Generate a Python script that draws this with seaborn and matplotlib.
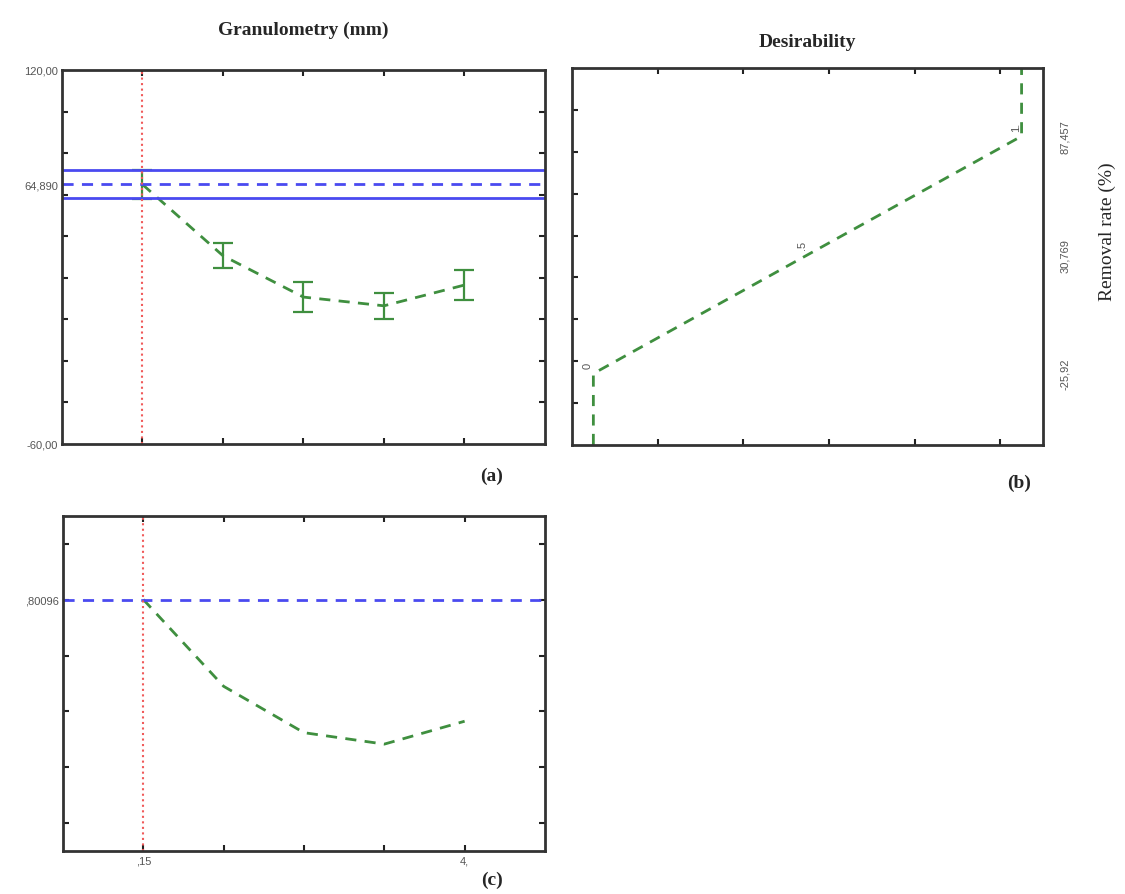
import numpy as np
import pandas as pd
import matplotlib
matplotlib.use("Agg")
import matplotlib.pyplot as plt
import seaborn as sns

# granulometry levels (5 levels, only first and last labelled)
levels = [1, 2, 3, 4, 5]
level_labels = [",15", "", "", "", "4,"]

# removal rate (%) predicted at each level, with error bar half widths
removal_mean = [64.89, 30.6, 10.7, 6.5, 16.5]
removal_err = [6.9, 6.0, 7.2, 6.2, 7.3]
current_value = 64.89
ci_low, ci_high = 58.2, 71.7

# desirability function (desirability -> removal rate)
desir_x = [0.0, 0.0, 0.5, 1.0, 1.0]
desir_y = [-60.0, -25.92, 30.769, 87.457, 120.0]
desir_marks = ["0", ".5", "1."]
desir_ticks = [-25.92, 30.769, 87.457]
desir_tick_labels = ["-25,92", "30,769", "87,457"]

# desirability at each granulometry level
desirability = [0.80096, 0.49, 0.324, 0.283, 0.365]
current_desir = 0.80096

GREEN = "#3f8f3f"
BLUE = "#4a4af0"
RED = "#f05a5a"
TICKC = "#555555"

sns.set_style("white")
plt.rcParams["font.family"] = ["Liberation Sans Narrow", "Liberation Sans", "DejaVu Sans"]

fig = plt.figure(figsize=(11.25, 8.95), dpi=100)
ax_a = fig.add_axes([0.0551, 0.5028, 0.4293, 0.4179])
ax_b = fig.add_axes([0.5084, 0.5017, 0.4187, 0.4212])
ax_c = fig.add_axes([0.0560, 0.0480, 0.4284, 0.3743])


def style_box(ax):
    for s in ax.spines.values():
        s.set_color("#333333")
        s.set_linewidth(2)
    ax.tick_params(which="both", direction="in", top=True, right=True,
                   left=True, bottom=True, color="#222222")
    ax.tick_params(which="minor", length=4, width=1.5)
    ax.tick_params(which="major", length=4, width=1.5, labelsize=8, labelcolor=TICKC, pad=3)


# ---- (a) profile of removal rate ----
df_a = pd.DataFrame({"level": levels, "removal": removal_mean})
sns.lineplot(data=df_a, x="level", y="removal", ax=ax_a, color=GREEN,
             linestyle=(0, (4, 3)), linewidth=2)
ax_a.errorbar(levels, removal_mean, yerr=removal_err, fmt="none",
              ecolor=GREEN, elinewidth=1.6, capsize=7, capthick=1.6)
ax_a.axhline(current_value, color=BLUE, linestyle=(0, (4, 3)), linewidth=2)
ax_a.axhline(ci_low, color=BLUE, linewidth=2)
ax_a.axhline(ci_high, color=BLUE, linewidth=2)
ax_a.axvline(levels[0], color=RED, linestyle=":", linewidth=1.5)
ax_a.set_xlim(0, 6)
ax_a.set_ylim(-60, 120)
ax_a.set_xticks(levels)
ax_a.set_xticklabels([])
ax_a.set_yticks([-60, current_value, 120])
ax_a.set_yticklabels(["-60,00", "64,890", "120,00"])
ax_a.set_yticks(np.arange(-40, 120, 20), minor=True)
style_box(ax_a)
ax_a.tick_params(axis="y", which="major", length=0)
ax_a.set_xlabel("")
ax_a.set_ylabel("")
ax_a.set_title("Granulometry (mm)", fontsize=14, fontweight="bold",
               family="Liberation Serif", pad=26)

# ---- (b) desirability function ----
df_b = pd.DataFrame({"d": desir_x, "removal": desir_y})
sns.lineplot(data=df_b, x="d", y="removal", ax=ax_b, sort=False, estimator=None,
             color=GREEN, linestyle=(0, (4, 3)), linewidth=2)
for lab, dx, ry in zip(desir_marks, desir_x[1:4], desir_y[1:4]):
    ax_b.annotate(lab, (dx, ry), xytext=(-4, 4), textcoords="offset points",
                  rotation=90, fontsize=8, color=TICKC, ha="center", va="bottom")
ax_b.set_xlim(-0.05, 1.05)
ax_b.set_ylim(-60, 120)
ax_b.set_xticks([0.15, 0.35, 0.55, 0.75, 0.95])
ax_b.set_xticklabels([])
ax_b.set_yticks(np.arange(-40, 120, 20))
ax_b.set_yticklabels([])
style_box(ax_b)
ax_b.set_xlabel("")
ax_b.set_ylabel("")
ax_b.set_title("Desirability", fontsize=14, fontweight="bold",
               family="Liberation Serif", pad=16)
ax_r = ax_b.twinx()
ax_r.set_ylim(-60, 120)
ax_r.set_yticks(desir_ticks)
ax_r.set_yticklabels(desir_tick_labels, rotation=90, va="center")
ax_r.tick_params(axis="y", length=0, labelsize=8, labelcolor=TICKC, pad=12)
for s in ax_r.spines.values():
    s.set_visible(False)
ax_r.grid(False)
fig.text(0.984, 1 - 232 / 895, "Removal rate (%)", rotation=90, ha="center",
         va="center", fontsize=14, family="Liberation Serif")

# ---- (c) desirability profile ----
df_c = pd.DataFrame({"level": levels, "desir": desirability})
sns.lineplot(data=df_c, x="level", y="desir", ax=ax_c, color=GREEN,
             linestyle=(0, (4, 3)), linewidth=2)
ax_c.axhline(current_desir, color=BLUE, linestyle=(0, (4, 3)), linewidth=2)
ax_c.axvline(levels[0], color=RED, linestyle=":", linewidth=1.5)
ax_c.set_xlim(0, 6)
ax_c.set_ylim(-0.1, 1.1)
ax_c.set_xticks(levels)
ax_c.set_xticklabels(level_labels)
ax_c.set_yticks([current_desir])
ax_c.set_yticklabels([",80096"])
ax_c.set_yticks(np.arange(0, 1.01, 0.2), minor=True)
style_box(ax_c)
ax_c.tick_params(axis="y", which="major", length=0)
ax_c.set_xlabel("")
ax_c.set_ylabel("")

# panel letters
for ax, lab, x, dy in [(ax_a, "(a)", 0.89, -0.085), (ax_b, "(b)", 0.95, -0.10),
                       (ax_c, "(c)", 0.89, -0.085)]:
    ax.text(x, dy, lab, transform=ax.transAxes, fontsize=14, fontweight="bold",
            family="Liberation Serif", ha="center", va="center")

fig.savefig("out.png", dpi=100, facecolor="white")
